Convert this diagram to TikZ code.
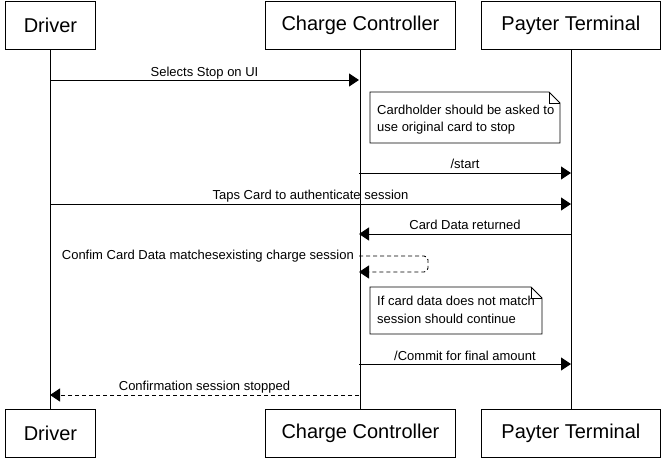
\documentclass[tikz,border=0pt]{standalone}
\usepackage{fontspec}
\setmainfont{Liberation Sans}
\usetikzlibrary{arrows.meta,calc}
\begin{document}
\begin{tikzpicture}[x=1pt,y=-1pt,
  actor/.style={draw,line width=0.9pt,minimum height=48pt,inner sep=0pt,font=\fontsize{20}{23}\selectfont,anchor=north west},
  msg/.style={line width=0.9pt,-{Triangle[length=10pt,width=13pt]}},
  ret/.style={msg,dash pattern=on 4pt off 3pt},
  lbl/.style={font=\fontsize{13}{15}\selectfont,inner sep=0pt,anchor=base},
  life/.style={line width=0.9pt},
  notetxt/.style={font=\fontsize{13}{17.5}\selectfont,align=left,inner sep=0pt,anchor=north west}
]
\useasboundingbox (0,0) rectangle (663,461);
% top participants
\node[actor,minimum width=90pt] (dT) at (5,1) {Driver};
\node[actor,minimum width=190pt] (cT) at (265,1) {Charge Controller};
\node[actor,minimum width=179pt] (pT) at (481,1) {Payter Terminal};
% bottom participants
\node[actor,minimum width=90pt] (dB) at (5,409) {Driver};
\node[actor,minimum width=190pt] (cB) at (265,409) {Charge Controller};
\node[actor,minimum width=179pt] (pB) at (481,409) {Payter Terminal};
% lifelines
\draw[life] (dT.south) -- (dB.north);
\draw[life] (cT.south) -- (cB.north);
\draw[life] (pT.south) -- (pB.north);
% message coordinates
\coordinate (d1) at (50,80);  \coordinate (c1) at (359,80);
\coordinate (c2) at (359,173); \coordinate (p2) at (571,173);
\coordinate (d3) at (50,204); \coordinate (p3) at (571,204);
\coordinate (p4) at (571,234); \coordinate (c4) at (359,234);
\coordinate (c5) at (359,256); \coordinate (c5b) at (359,272);
\coordinate (c6) at (359,364); \coordinate (p6) at (571,364);
\coordinate (c7) at (359,395); \coordinate (d7) at (50,395);
% messages
\draw[msg] (d1) -- node[lbl,yshift=4pt] (l1) {Selects Stop on UI} (c1);
\draw[msg] (c2) -- node[lbl,yshift=5pt] (l2) {/start} (p2);
\draw[msg] (d3) -- node[lbl,yshift=4.5pt] (l3) {Taps Card to authenticate session} (p3);
\draw[msg] (p4) -- node[lbl,yshift=4.5pt] (l4) {Card Data returned} (c4);
\draw[ret,rounded corners=4pt] (c5) -- (428,256) -- (428,272) -- (c5b);
\node[lbl,anchor=east] (l5) at (354,256) {Confim Card Data matchesexisting charge session};
\draw[msg] (c6) -- node[lbl,yshift=4pt] (l6) {/Commit for final amount} (p6);
\draw[ret] (c7) -- node[lbl,yshift=4.5pt] (l7) {Confirmation session stopped} (d7);
% notes
\draw[line width=0.9pt] (370,92) -- (549,92) -- (560,103) -- (560,143) -- (370,143) -- cycle;
\draw[line width=0.9pt] (549,92) -- (549,103) -- (560,103);
\node[notetxt] (n1) at (377,104.5) {Cardholder should be asked to\\use original card to stop};
\draw[line width=0.9pt] (370,287) -- (531,287) -- (542,298) -- (542,334) -- (370,334) -- cycle;
\draw[line width=0.9pt] (531,287) -- (531,298) -- (542,298);
\node[notetxt] (n2) at (377,296) {If card data does not match\\session should continue};
\end{tikzpicture}
\end{document}
